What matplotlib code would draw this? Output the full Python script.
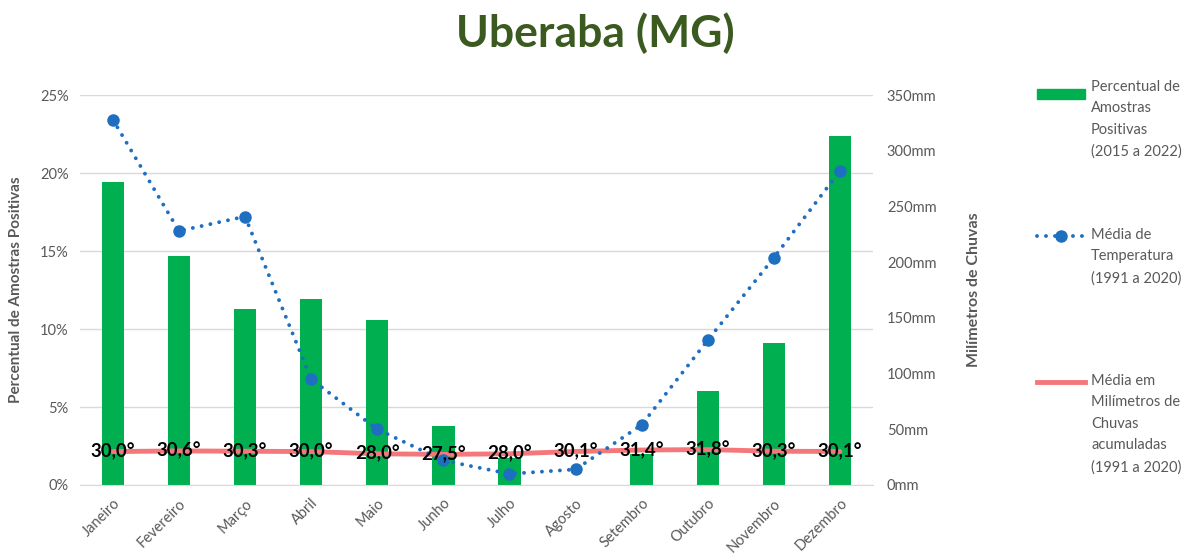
import matplotlib
matplotlib.use("Agg")
import matplotlib.pyplot as plt
from matplotlib.lines import Line2D
from matplotlib.patches import Rectangle
from matplotlib.ticker import FuncFormatter, MultipleLocator

plt.rcParams['font.family'] = ['Lato', 'DejaVu Sans']

months = ["Janeiro", "Fevereiro", "Março", "Abril", "Maio", "Junho",
          "Julho", "Agosto", "Setembro", "Outubro", "Novembro", "Dezembro"]
pct_positive = [19.4, 14.7, 11.3, 11.9, 10.6, 3.8, 1.7, 0.0, 2.0, 6.0, 9.1, 22.4]
blue_series = [328, 228, 241, 95, 50, 22, 10, 14, 54, 130, 204, 282]
red_series = [30.0, 30.6, 30.3, 30.0, 28.0, 27.5, 28.0, 30.1, 31.4, 31.8, 30.3, 30.1]

GREEN = "#00B050"
BLUE = "#1F6FC0"
RED = "#F4777B"
GREY = "#595959"
TITLE = "#3A5A1F"
DOTS = (0, (0.01, 2.3))

fig = plt.figure(figsize=(11.91, 5.56), dpi=100)
ax = fig.add_axes([0.067, 0.1277, 0.666, 0.7013])
x = list(range(len(months)))

ax.bar(x, pct_positive, width=0.34, color=GREEN, zorder=2)
ax.set_ylim(0, 25)
ax.set_xlim(-0.5, 11.5)
ax.yaxis.set_major_locator(MultipleLocator(5))
ax.yaxis.set_major_formatter(FuncFormatter(lambda v, p: f"{v:.0f}%"))
ax.grid(axis='y', color="#D9D9D9", linewidth=1, zorder=0)
ax.set_axisbelow(True)
for s in ["top", "right", "left"]:
    ax.spines[s].set_visible(False)
ax.spines["bottom"].set_color("#D9D9D9")
ax.tick_params(axis='both', length=0, colors=GREY, labelsize=10.5)
ax.tick_params(axis='y', pad=8)
ax.set_xticks(x)
ax.set_xticklabels(months, rotation=45, ha='right', rotation_mode='anchor')
ax.tick_params(axis='x', pad=8)
ax.set_ylabel("Percentual de Amostras Positivas", color=GREY, fontsize=11,
              fontweight='bold', labelpad=12)

ax2 = ax.twinx()
ax2.set_ylim(0, 350)
ax2.yaxis.set_major_locator(MultipleLocator(50))
ax2.yaxis.set_major_formatter(FuncFormatter(lambda v, p: f"{v:.0f}mm"))
for s in ["top", "right", "left", "bottom"]:
    ax2.spines[s].set_visible(False)
ax2.tick_params(axis='y', length=0, colors=GREY, labelsize=10.5, pad=10)
ax2.set_ylabel("Milímetros de Chuvas", color=GREY, fontsize=11.5,
               fontweight='bold', labelpad=22)

ax2.plot(x, red_series, color=RED, linewidth=3.5, solid_capstyle='round', zorder=3)
ax2.plot(x, blue_series, color=BLUE, linewidth=2.8, linestyle=DOTS,
         dash_capstyle='round', marker='o', markersize=8, zorder=4)
for xi, v in zip(x, red_series):
    ax2.text(xi, v, f"{v:.1f}°".replace(".", ","), ha='center', va='center',
             fontsize=13.5, fontweight='bold', color='black', zorder=5)

fig.text(0.5, 0.94, "Uberaba (MG)", ha='center', va='center', fontsize=32,
         fontweight='bold', color=TITLE)

# legend entries
fig.add_artist(Rectangle((1037 / 1191, 1 - 99 / 556), 48 / 1191, 10 / 556,
                         transform=fig.transFigure, color=GREEN))
fig.add_artist(Line2D([1037 / 1191, 1085 / 1191], [1 - 236 / 556] * 2,
                      transform=fig.transFigure, color=BLUE, linewidth=2.8,
                      linestyle=DOTS, dash_capstyle='round'))
fig.add_artist(Line2D([1061 / 1191], [1 - 236 / 556], transform=fig.transFigure,
                      color=BLUE, marker='o', markersize=8))
fig.add_artist(Line2D([1037 / 1191, 1085 / 1191], [1 - 382 / 556] * 2,
                      transform=fig.transFigure, color=RED, linewidth=3.5))

legend_texts = [
    (88, "Percentual de\nAmostras\nPositivas\n(2015 a 2022)"),
    (236, "Média de\nTemperatura\n(1991 a 2020)"),
    (382, "Média em\nMilímetros de\nChuvas\nacumuladas\n(1991 a 2020)"),
]
for yp, txt in legend_texts:
    fig.text(1091 / 1191, 1 - (yp - 8) / 556, txt, ha='left', va='top',
             fontsize=10.5, color=GREY, linespacing=1.68)

fig.savefig("out.png", dpi=100)
